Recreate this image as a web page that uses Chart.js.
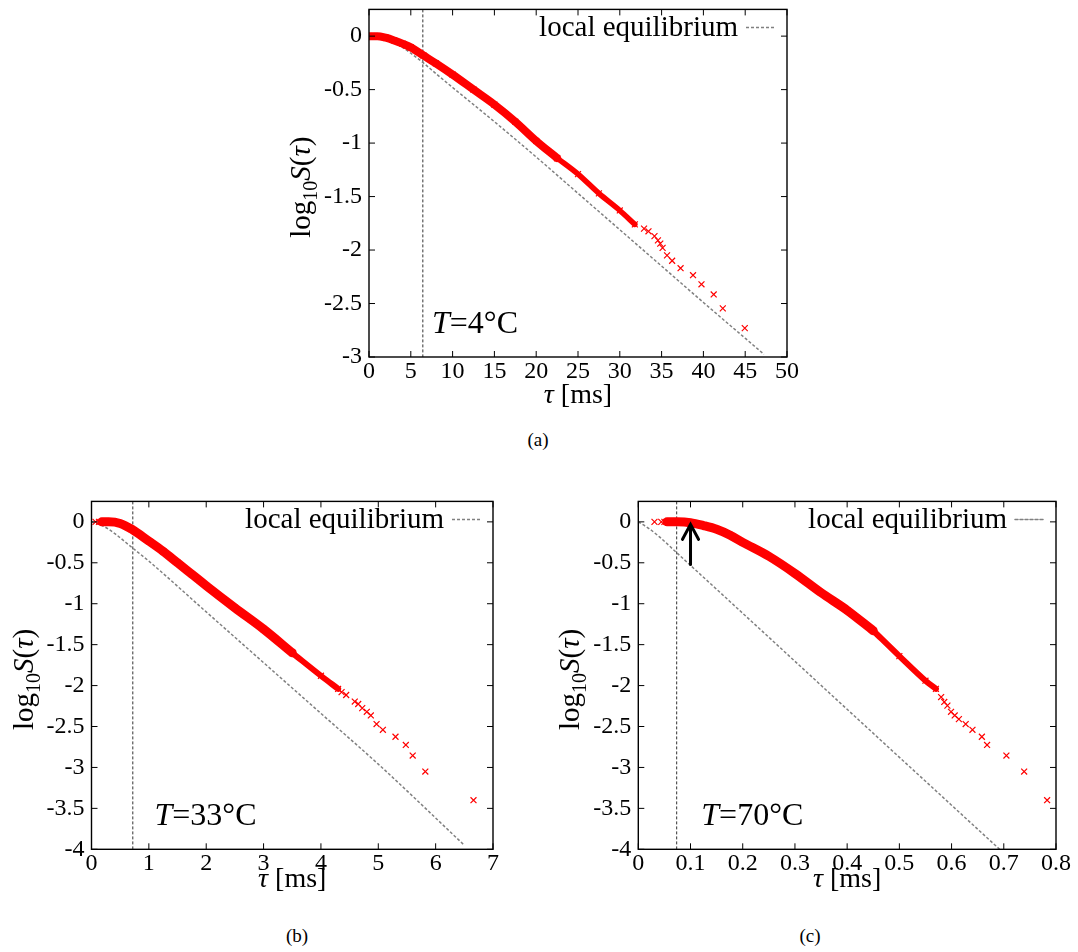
<!DOCTYPE html>
<html>
<head>
<meta charset="utf-8">
<script src="https://cdn.jsdelivr.net/npm/chart.js@4.4.1/dist/chart.umd.min.js"></script>
<style>
  html, body { margin: 0; padding: 0; background: #fff; }
  body { width: 1078px; height: 952px; position: relative; overflow: hidden; font-family: 'Liberation Serif', 'Times New Roman', serif; }
  .panel { position: absolute; }
  .caption { position: absolute; font-size: 19px; line-height: 19px; color: #000; transform: translateX(-50%); }
</style>
</head>
<body>
<div class="panel" style="left:270px; top:-12px;"><canvas id="chartA" width="540" height="432"></canvas></div>
<div class="panel" style="left:0px; top:480px;"><canvas id="chartB" width="540" height="420"></canvas></div>
<div class="panel" style="left:540px; top:480px;"><canvas id="chartC" width="538" height="420"></canvas></div>
<div class="caption" style="left:538px; top:430px;">(a)</div>
<div class="caption" style="left:297px; top:926px;">(b)</div>
<div class="caption" style="left:810px; top:926px;">(c)</div>
<script>
// ---- (a) T = 4 C ----
const tauA_band = [0, 1, 2, 3, 4, 5, 6.5, 8, 10, 12.5, 15, 17.5, 20, 22.5];
const logSA_band = [0, 0, -0.015, -0.04, -0.07, -0.105, -0.18, -0.255, -0.36, -0.50, -0.64, -0.80, -0.98, -1.14];
const tauA_mid = [22.5, 25, 27.5, 30, 31.8];
const logSA_mid = [-1.14, -1.29, -1.47, -1.63, -1.76];
const tauA_tail = [32.9, 33.43, 34.15, 34.56, 34.84, 35.12, 35.65, 36.26, 37.27, 38.76, 39.77, 41.23, 42.32, 44.95];
const logSA_tail = [-1.80, -1.825, -1.87, -1.91, -1.94, -1.98, -2.05, -2.10, -2.17, -2.235, -2.32, -2.415, -2.545, -2.73];
const tauA_eq = [0, 1, 2, 3, 4, 5, 6.5, 8, 10, 15, 20, 25, 30, 35, 40, 47.25];
const logSA_eq = [0, -0.005, -0.025, -0.06, -0.105, -0.16, -0.25, -0.35, -0.48, -0.80, -1.13, -1.47, -1.81, -2.15, -2.49, -2.975];
const xTicksA = [0, 5, 10, 15, 20, 25, 30, 35, 40, 45, 50];
const yTicksA = [0, -0.5, -1, -1.5, -2, -2.5, -3];
const vlineA = 6.44;

// ---- (b) T = 33 C ----
const tauB_band = [0.18, 0.3, 0.5, 0.7, 1.0, 1.25, 1.5, 1.75, 2.0, 2.5, 3.0, 3.5];
const logSB_band = [0, 0, -0.02, -0.09, -0.235, -0.36, -0.50, -0.64, -0.78, -1.05, -1.31, -1.60];
const tauB_mid = [3.5, 4.0, 4.3];
const logSB_mid = [-1.60, -1.88, -2.04];
const tauB_tail = [0.07, 0.13, 4.36, 4.44, 4.59, 4.65, 4.72, 4.80, 4.87, 4.97, 5.08, 5.30, 5.48, 5.60, 5.82, 6.66];
const logSB_tail = [0, 0, -2.08, -2.115, -2.195, -2.225, -2.275, -2.32, -2.365, -2.47, -2.54, -2.625, -2.725, -2.855, -3.05, -3.40];
const tauB_eq = [0, 0.2, 0.4, 0.7, 1, 2, 3, 4, 5, 6.5];
const logSB_eq = [0, -0.05, -0.14, -0.31, -0.48, -1.1, -1.72, -2.34, -2.96, -3.95];
const xTicksB = [0, 1, 2, 3, 4, 5, 6, 7];
const vlineB = 0.72;

// ---- (c) T = 70 C ----
const tauC_band = [0.055, 0.075, 0.1, 0.125, 0.15, 0.175, 0.2, 0.25, 0.3, 0.35, 0.4, 0.45];
const logSC_band = [0, 0, -0.01, -0.045, -0.09, -0.16, -0.25, -0.42, -0.63, -0.865, -1.08, -1.33];
const tauC_mid = [0.45, 0.5, 0.55, 0.57];
const logSC_mid = [-1.33, -1.64, -1.94, -2.04];
const tauC_tail = [0.031, 0.044, 0.050, 0.580, 0.586, 0.592, 0.599, 0.606, 0.614, 0.627, 0.640, 0.658, 0.668, 0.705, 0.739, 0.783];
const logSC_tail = [0, 0, 0, -2.14, -2.20, -2.245, -2.32, -2.365, -2.41, -2.47, -2.54, -2.625, -2.725, -2.855, -3.05, -3.40];
const tauC_eq = [0, 0.02, 0.04, 0.0735, 0.1743, 0.4, 0.692];
const logSC_eq = [0, -0.08, -0.18, -0.377, -0.966, -2.29, -4.0];
const xTicksC = [0, 0.1, 0.2, 0.3, 0.4, 0.5, 0.6, 0.7, 0.8];
const vlineC = 0.0735;
const arrowTauC = 0.1;
const arrowLogSC = [-0.52, -0.03];

const yTicksBC = [0, -0.5, -1, -1.5, -2, -2.5, -3, -3.5, -4];

const SERIF = "'Liberation Serif', 'Times New Roman', serif";
Chart.defaults.font.family = SERIF;
Chart.defaults.font.size = 24;
Chart.defaults.color = '#000';

function toPoints(xs, ys) {
  return xs.map((x, i) => ({ x: x, y: ys[i] }));
}

// draw a run of text pieces with different fonts, on one baseline
function drawRich(ctx, parts, x, y, align) {
  let w = 0;
  parts.forEach(p => { ctx.font = p.font; w += ctx.measureText(p.t).width; });
  let cx = align === 'center' ? x - w / 2 : (align === 'right' ? x - w : x);
  ctx.textAlign = 'left';
  ctx.textBaseline = 'alphabetic';
  parts.forEach(p => {
    ctx.font = p.font;
    ctx.fillText(p.t, cx, y + (p.dy || 0));
    cx += ctx.measureText(p.t).width;
  });
}

const decor = {
  id: 'decor',
  beforeDatasetsDraw(chart, args, o) {
    const { ctx, chartArea: a, scales: { x } } = chart;
    const vx = x.getPixelForValue(o.vline);
    ctx.save();
    ctx.strokeStyle = '#333';
    ctx.lineWidth = 1;
    ctx.setLineDash([3, 2]);
    ctx.beginPath();
    ctx.moveTo(vx, a.top);
    ctx.lineTo(vx, a.bottom);
    ctx.stroke();
    ctx.restore();
  },
  afterDatasetsDraw(chart, args, o) {
    const { ctx, chartArea: a, scales: { x, y } } = chart;
    ctx.save();
    ctx.strokeStyle = '#000';
    ctx.lineWidth = 1.4;
    ctx.strokeRect(a.left, a.top, a.right - a.left, a.bottom - a.top);
    ctx.lineWidth = 1;
    ctx.beginPath();
    x.ticks.forEach(t => {
      const px = x.getPixelForValue(t.value);
      ctx.moveTo(px, a.bottom); ctx.lineTo(px, a.bottom - 6);
      ctx.moveTo(px, a.top); ctx.lineTo(px, a.top + 6);
    });
    y.ticks.forEach(t => {
      const py = y.getPixelForValue(t.value);
      ctx.moveTo(a.left, py); ctx.lineTo(a.left + 6, py);
      ctx.moveTo(a.right, py); ctx.lineTo(a.right - 6, py);
    });
    ctx.stroke();

    // arrow (panel c)
    if (o.arrow) {
      const ax = x.getPixelForValue(o.arrow.x);
      const y0 = y.getPixelForValue(o.arrow.from);
      const y1 = y.getPixelForValue(o.arrow.to);
      ctx.lineWidth = 3;
      ctx.lineCap = 'round';
      ctx.beginPath();
      ctx.moveTo(ax, y0); ctx.lineTo(ax, y1 + 2);
      ctx.moveTo(ax - 8, y1 + 15); ctx.lineTo(ax, y1); ctx.lineTo(ax + 8, y1 + 15);
      ctx.stroke();
    }

    // key
    ctx.fillStyle = '#000';
    drawRich(ctx, [{ t: 'local equilibrium', font: '29px ' + SERIF }], a.right - 49, a.top + 27, 'right');
    ctx.strokeStyle = '#808080';
    ctx.lineWidth = 1.5;
    ctx.setLineDash([3, 2]);
    ctx.beginPath();
    ctx.moveTo(a.right - 41, a.top + 18);
    ctx.lineTo(a.right - 12, a.top + 18);
    ctx.stroke();
    ctx.setLineDash([]);

    // temperature label
    drawRich(ctx, [
      { t: 'T', font: 'italic 32px ' + SERIF },
      { t: '=' + o.temp + '°C', font: '32px ' + SERIF }
    ], a.left + 63, a.bottom - 24, 'left');

    // x title
    drawRich(ctx, [
      { t: 'τ', font: 'italic 28px ' + SERIF },
      { t: ' [ms]', font: '28px ' + SERIF }
    ], (a.left + a.right) / 2, a.bottom + o.xTitleGap, 'center');

    // y title, rotated
    ctx.translate(a.left - 69, (a.top + a.bottom) / 2 + 4);
    ctx.rotate(-Math.PI / 2);
    drawRich(ctx, [
      { t: 'log', font: '29px ' + SERIF },
      { t: '10', font: '20px ' + SERIF, dy: 7 },
      { t: 'S', font: 'italic 29px ' + SERIF },
      { t: '(', font: '29px ' + SERIF },
      { t: 'τ', font: 'italic 29px ' + SERIF },
      { t: ')', font: '29px ' + SERIF }
    ], 0, 10, 'center');
    ctx.restore();
  }
};

function makePanel(id, p) {
  const red = '#ff0000';
  new Chart(document.getElementById(id), {
    type: 'scatter',
    data: {
      datasets: [
        {
          data: toPoints(p.band[0], p.band[1]),
          showLine: true, borderColor: red, borderWidth: p.bandWidth, borderCapStyle: 'round',
          cubicInterpolationMode: 'monotone', clip: 0,
          pointStyle: 'crossRot', pointRadius: 4.2, pointBorderColor: red, pointBorderWidth: 1.2
        },
        {
          data: toPoints(p.mid[0], p.mid[1]),
          showLine: true, borderColor: red, borderWidth: p.midWidth, borderCapStyle: 'round',
          cubicInterpolationMode: 'monotone', clip: 0,
          pointStyle: 'crossRot', pointRadius: 4.2, pointBorderColor: red, pointBorderWidth: 1.2
        },
        {
          data: toPoints(p.tail[0], p.tail[1]),
          showLine: false, pointStyle: 'crossRot', pointRadius: 4.2,
          pointBorderColor: red, pointBorderWidth: 1.2
        },
        {
          data: toPoints(p.eq[0], p.eq[1]),
          showLine: true, borderColor: '#808080', borderWidth: 1.5, borderDash: [3, 2],
          cubicInterpolationMode: 'monotone', pointRadius: 0
        }
      ]
    },
    options: {
      responsive: false,
      animation: false,
      layout: { padding: { left: 0, top: 20, right: p.padRight, bottom: p.padBottom } },
      plugins: {
        legend: { display: false },
        tooltip: { enabled: false },
        decor: { vline: p.vline, temp: p.temp, xTitleGap: p.xTitleGap, arrow: p.arrow }
      },
      scales: {
        x: {
          type: 'linear', min: p.xMin, max: p.xMax,
          grid: { display: false, drawTicks: false }, border: { display: false },
          ticks: { padding: 0, maxRotation: 0, autoSkip: false, callback: v => String(v) },
          afterBuildTicks: s => { s.ticks = p.xTicks.map(v => ({ value: v })); },
          afterFit: s => { s.height = p.xAxisH; }
        },
        y: {
          type: 'linear', min: p.yMin, max: p.yMax,
          grid: { display: false, drawTicks: false }, border: { display: false },
          ticks: { padding: 7, autoSkip: false, callback: v => String(v) },
          afterBuildTicks: s => { s.ticks = p.yTicks.map(v => ({ value: v })); },
          afterFit: s => { s.width = p.yAxisW; }
        }
      }
    },
    plugins: [decor]
  });
}

makePanel('chartA', {
  band: [tauA_band, logSA_band], mid: [tauA_mid, logSA_mid], tail: [tauA_tail, logSA_tail], eq: [tauA_eq, logSA_eq],
  xTicks: xTicksA, yTicks: yTicksA, xMin: 0, xMax: 50, yMin: -3, yMax: 0.25,
  vline: vlineA, temp: '4', bandWidth: 8, midWidth: 5.5,
  yAxisW: 99, xAxisH: 50, padRight: 23, padBottom: 13, xTitleGap: 46
});

makePanel('chartB', {
  band: [tauB_band, logSB_band], mid: [tauB_mid, logSB_mid], tail: [tauB_tail, logSB_tail], eq: [tauB_eq, logSB_eq],
  xTicks: xTicksB, yTicks: yTicksBC, xMin: 0, xMax: 7, yMin: -4, yMax: 0.25,
  vline: vlineB, temp: '33', bandWidth: 9, midWidth: 6,
  yAxisW: 91.5, xAxisH: 40, padRight: 47, padBottom: 10.7, xTitleGap: 38
});

makePanel('chartC', {
  band: [tauC_band, logSC_band], mid: [tauC_mid, logSC_mid], tail: [tauC_tail, logSC_tail], eq: [tauC_eq, logSC_eq],
  xTicks: xTicksC, yTicks: yTicksBC, xMin: 0, xMax: 0.8, yMin: -4, yMax: 0.25,
  vline: vlineC, temp: '70', bandWidth: 9, midWidth: 6,
  arrow: { x: arrowTauC, from: arrowLogSC[0], to: arrowLogSC[1] },
  yAxisW: 98.3, xAxisH: 40, padRight: 22, padBottom: 10.7, xTitleGap: 38
});
</script>
</body>
</html>
